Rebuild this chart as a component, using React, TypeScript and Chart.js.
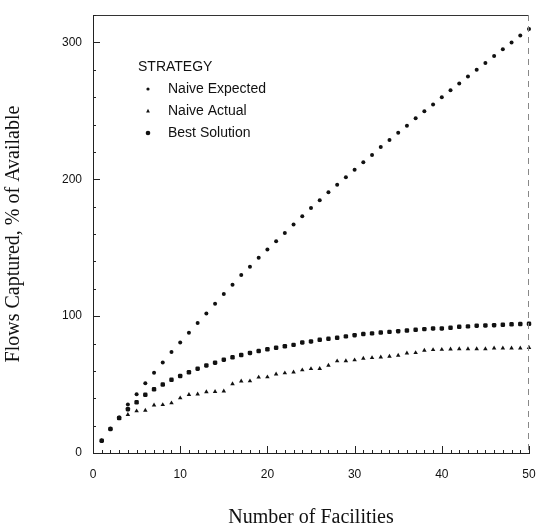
import React, { useEffect, useRef } from "react";
import { Chart, registerables } from "chart.js";

Chart.register(...registerables);

const facilities: number[] = Array.from({ length: 50 }, (_, i) => i + 1);

const naiveExpected: number[] = [
  9, 17.6, 26, 35.5, 43, 51, 58.7, 66.2, 73.7, 80.7,
  87.9, 95, 102, 109, 116.2, 123, 130, 136, 142.6, 148.7,
  154.7, 160.8, 167, 173, 179, 184.7, 190.5, 196, 201.5, 207,
  212.4, 217.7, 223.6, 228.7, 234, 239, 244.5, 249.6, 254.7, 260,
  265, 270, 275, 280, 285, 290, 295, 300, 305, 309.7,
];

const naiveActual: number[] = [
  9, 17.6, 25.5, 28, 30.7, 31.1, 35, 35.2, 36.5, 40.2,
  42.6, 43, 44.6, 44.8, 45.2, 50.5, 52.5, 52.6, 55.3, 55.5,
  57.6, 58.4, 59.1, 60.6, 61.5, 61.6, 64, 67.2, 67.3, 67.9,
  69.1, 69.6, 70, 70.6, 71.3, 73, 73.2, 75, 75.4, 75.6,
  75.9, 76.1, 76.1, 76.1, 76.1, 76.6, 76.6, 76.6, 76.6, 77,
];

const bestSolution: number[] = [
  9, 17.6, 25.5, 32, 37, 42.5, 46.5, 50, 53.5, 56.2,
  59, 61.6, 64, 66, 68.2, 69.9, 71.6, 73.1, 74.5, 75.8,
  76.9, 78, 79, 80.8, 81.5, 82.7, 83.4, 84.2, 85.2, 86.1,
  86.9, 87.4, 88, 88.5, 89, 89.5, 90, 90.5, 91, 91,
  91.5, 92.2, 92.5, 93, 93.2, 93.4, 93.7, 94, 94.2, 94.4,
];

const seriesLabels: string[] = ["Naive Expected", "Naive Actual", "Best Solution"];
const legendTitle = "STRATEGY";
const xTitle = "Number of Facilities";
const yTitle = "Flows Captured, % of Available";

const INK = "#111111";
const SANS = "'Liberation Sans', Arial, sans-serif";
const SERIF = "'Liberation Serif', 'Times New Roman', serif";

function drawMarker(ctx: CanvasRenderingContext2D, style: string, x: number, y: number) {
  ctx.beginPath();
  if (style === "circle") {
    ctx.arc(x, y, 1.6, 0, Math.PI * 2);
  } else if (style === "triangle") {
    ctx.moveTo(x, y - 2.2);
    ctx.lineTo(x + 1.9, y + 1.4);
    ctx.lineTo(x - 1.9, y + 1.4);
    ctx.closePath();
  } else {
    ctx.arc(x, y, 2.3, 0, Math.PI * 2);
  }
  ctx.fill();
}

const framePlugin = {
  id: "frameTicksLegend",
  afterDraw(chart: any) {
    const { ctx, chartArea } = chart;
    const xs = chart.scales.x;
    const ys = chart.scales.y;
    const { left, right, top, bottom } = chartArea;
    ctx.save();
    ctx.strokeStyle = "#333";
    ctx.lineWidth = 1;
    ctx.beginPath();
    ctx.moveTo(left, top + 0.5);
    ctx.lineTo(right, top + 0.5);
    ctx.stroke();
    ctx.strokeStyle = "#888";
    ctx.setLineDash([6, 5]);
    ctx.beginPath();
    ctx.moveTo(right - 0.5, top);
    ctx.lineTo(right - 0.5, bottom);
    ctx.stroke();
    ctx.setLineDash([]);
    ctx.strokeStyle = "#222";
    ctx.beginPath();
    for (let v = 0; v <= 50; v += 1) {
      const px = Math.round(xs.getPixelForValue(v)) + 0.5;
      const len = v % 10 === 0 ? 7 : 3;
      ctx.moveTo(px, bottom);
      ctx.lineTo(px, bottom - len);
    }
    for (let v = 0; v <= 320; v += 20) {
      const py = Math.round(ys.getPixelForValue(v)) + 0.5;
      const len = v % 100 === 0 ? 7 : 3;
      ctx.moveTo(left, py);
      ctx.lineTo(left + len, py);
    }
    ctx.stroke();
    ctx.fillStyle = INK;
    ctx.font = `14px ${SANS}`;
    ctx.textBaseline = "middle";
    ctx.textAlign = "left";
    ctx.fillText(legendTitle, left + 45, top + 52);
    const styles = ["circle", "triangle", "blob"];
    chart.data.datasets.forEach((ds: any, i: number) => {
      const yy = top + 74 + 22 * i;
      drawMarker(ctx, styles[i], left + 55, yy);
      ctx.fillText(ds.label, left + 75, yy);
    });
    ctx.restore();
  },
};

export default function App() {
  const ref = useRef<HTMLCanvasElement | null>(null);

  useEffect(() => {
    document.body.style.margin = "0";
    const canvas = ref.current;
    if (!canvas) return;
    const toPts = (arr: number[]) => arr.map((v, i) => ({ x: facilities[i], y: v }));
    const chart = new Chart(canvas, {
      type: "scatter",
      data: {
        datasets: [
          {
            label: seriesLabels[0],
            data: toPts(naiveExpected),
            pointStyle: "circle",
            pointRadius: 2,
            borderWidth: 0,
            backgroundColor: INK,
            borderColor: INK,
            clip: false,
          },
          {
            label: seriesLabels[1],
            data: toPts(naiveActual),
            pointStyle: "triangle",
            pointRadius: 2.6,
            borderWidth: 0,
            backgroundColor: INK,
            borderColor: INK,
            clip: false,
          },
          {
            label: seriesLabels[2],
            data: toPts(bestSolution),
            pointStyle: "rectRounded",
            pointRadius: 2.6,
            borderWidth: 0,
            backgroundColor: INK,
            borderColor: INK,
            clip: false,
          },
        ],
      },
      options: {
        responsive: false,
        animation: false,
        devicePixelRatio: 1,
        layout: { padding: { left: 0, right: 7, top: 15, bottom: 0 } },
        plugins: {
          legend: { display: false },
          tooltip: { enabled: false },
        },
        scales: {
          x: {
            type: "linear",
            min: 0,
            max: 50,
            grid: { display: false, drawTicks: false },
            border: { display: true, color: "#222", width: 1 },
            ticks: {
              stepSize: 10,
              padding: 14,
              color: INK,
              font: { family: SANS, size: 12 },
              maxRotation: 0,
            },
            title: {
              display: true,
              text: xTitle,
              color: INK,
              font: { family: SERIF, size: 20, lineHeight: 1 },
              padding: { top: 0, bottom: 0 },
            },
            afterFit: (s: any) => {
              s.height = 75;
              s.paddingLeft = 0;
              s.paddingRight = 0;
            },
          },
          y: {
            type: "linear",
            min: 0,
            max: 320,
            grid: { display: false, drawTicks: false },
            border: { display: true, color: "#222", width: 1 },
            ticks: {
              stepSize: 100,
              includeBounds: false,
              padding: 11,
              color: INK,
              font: { family: SANS, size: 12 },
            },
            title: {
              display: true,
              text: yTitle,
              color: INK,
              font: { family: SERIF, size: 20, lineHeight: 1 },
              padding: { top: 4, bottom: 0 },
            },
            afterFit: (s: any) => {
              s.width = 93;
              s.paddingTop = 0;
              s.paddingBottom = 0;
            },
          },
        },
      },
      plugins: [framePlugin],
    });
    return () => chart.destroy();
  }, []);

  return (
    <div style={{ width: 536, height: 528, background: "#fff" }}>
      <canvas ref={ref} width={536} height={528} style={{ display: "block" }} />
    </div>
  );
}
